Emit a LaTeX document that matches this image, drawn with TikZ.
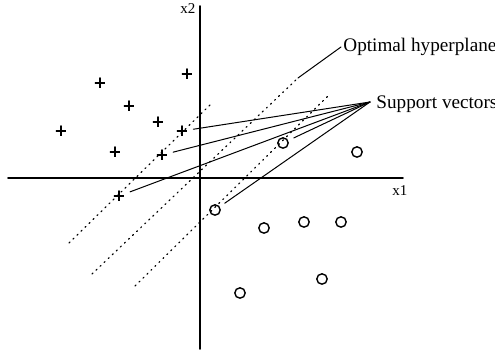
\documentclass[tikz,border=0pt]{standalone}
\usepackage{fontspec}
\setmainfont{Liberation Serif}
\usetikzlibrary{positioning}

\begin{document}
\begin{tikzpicture}[x=0.5pt, y=-0.5pt, line cap=round,
  plusmark/.style={inner sep=0pt, minimum size=5pt, path picture={
      \draw[line width=0.9pt] (path picture bounding box.north) -- (path picture bounding box.south)
        (path picture bounding box.west) -- (path picture bounding box.east);}},
  ovmark/.style={circle, draw, line width=0.7pt, inner sep=0pt, minimum size=5.2pt},
  axisline/.style={line width=0.8pt},
  hplane/.style={line width=0.6pt, dash pattern=on 0.6pt off 2.2pt},
  ptr/.style={line width=0.5pt, shorten >=3pt},
  lbl/.style={font=\fontsize{9.6}{11}\selectfont, inner sep=1pt}]
\useasboundingbox (0,0) rectangle (495,352);

% axes
\coordinate (xl) at (8,178);
\coordinate (xr) at (403,178);
\coordinate (yt) at (200,6);
\coordinate (yb) at (200,349);
\draw[axisline] (xl) -- (xr);
\draw[axisline] (yb) -- (yt);
\node[font=\fontsize{7.5}{9}\selectfont, inner sep=0pt] (xone) at (400,191) {x1};
\node[font=\fontsize{7.5}{9}\selectfont, inner sep=0pt] (xtwo) at (188,9) {x2};

% class +1
\foreach \x/\y/\n in {100/83/p1, 129/106/p2, 158/122/p3, 187/74/p4, 61/131/p5,
                      182/131/p6, 115/152/p7, 162/155/p8, 119/196/p9}{
  \node[plusmark] (\n) at (\x,\y) {};
}
% class -1
\foreach \x/\y/\n in {283/143/c1, 357/152/c2, 215/210/c3, 264/228/c4,
                      304/222/c5, 341/222/c6, 322/279/c7, 240/293/c8}{
  \node[ovmark] (\n) at (\x,\y) {};
}

% margins and hyperplane
\coordinate (ha1) at (69,243);  \coordinate (ha2) at (212,103);
\coordinate (hb1) at (92,274);  \coordinate (hb2) at (298,78);
\coordinate (hc1) at (135,286); \coordinate (hc2) at (330,94);
\draw[hplane] (ha1) -- (ha2);
\draw[hplane] (hb1) -- (hb2);
\draw[hplane] (hc1) -- (hc2);

% labels
\node[lbl, anchor=west] (opt) at (341,47) {Optimal hyperplane};
\draw[line width=0.5pt] (hb2) -- (opt.west);
\coordinate (sv) at (370,102);
\node[lbl, anchor=west] (svl) at (374,104) {Support vectors};
\foreach \t in {p6,p8,p9,c1,c3}{
  \draw[ptr] (sv) -- (\t);
}
\end{tikzpicture}
\end{document}
